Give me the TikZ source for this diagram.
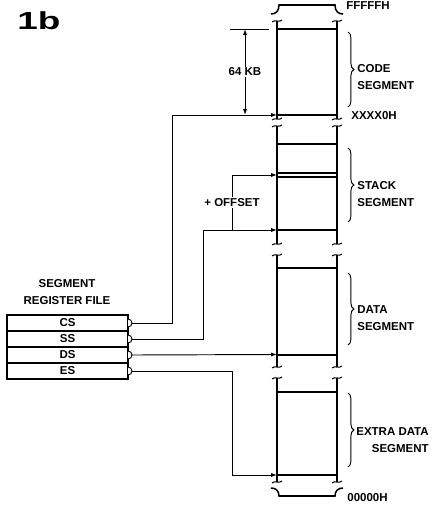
\documentclass[tikz,border=0pt]{standalone}
\usepackage{fontspec}
\setsansfont{Liberation Sans}
\usetikzlibrary{arrows.meta, positioning, calc, decorations.pathreplacing}

\begin{document}
\begin{tikzpicture}[
  x=0.03cm, y=-0.03cm,
  lbl/.style={font=\fontsize{9.8}{14}\selectfont\sffamily\bfseries, inner sep=1pt},
  regrow/.style={draw, line width=1.1pt, minimum width=3.63cm,
    minimum height=0.48cm, inner sep=0pt, outer sep=0pt, lbl},
  memline/.style={line width=1.3pt},
  brk/.style={line width=0.9pt},
  link/.style={-{Latex[length=5pt,width=3.5pt]}, line width=0.8pt},
  segbrace/.style={decorate, decoration={brace, amplitude=5pt}, line width=0.8pt},
  >={Latex[length=5pt,width=3.5pt]}
]
  \useasboundingbox (0,0) rectangle (437,507);

  % Figure tag
  \node[font=\fontsize{21}{21}\selectfont\sffamily\bfseries, inner sep=0pt]
    (tag) at (39,21) {\scalebox{1.5}[1]{1b}};

  % Memory column, in pieces with break marks
  \foreach \t/\b in {21/119, 126/244, 255/367, 378/482} {
    \draw[memline] (277,\t) -- (277,\b);
    \draw[memline] (337,\t) -- (337,\b);
    \foreach \x in {277,337} {
      \draw[brk] (\x-5,\t+1) .. controls (\x-2,\t-2) and (\x+2,\t+2) .. (\x+5,\t-1);
      \draw[brk] (\x-5,\b+1) .. controls (\x-2,\b-2) and (\x+2,\b+2) .. (\x+5,\b-1);
    }
  }

  % End caps
  \draw[memline] (271,14) .. controls (276,14) and (279,11) .. (279,5)
    -- (335,5) .. controls (335,11) and (338,14) .. (343,14);
  \draw[memline] (271,488) .. controls (276,488) and (279,491) .. (279,496)
    -- (335,496) .. controls (335,491) and (338,488) .. (343,488);

  % Segment boundaries
  \foreach \y in {29,115,144,173,177,230,268,355,392,475} {
    \draw[memline] (277,\y) -- (337,\y);
  }

  % Segment bases
  \coordinate (cbase) at (277,115);
  \coordinate (soff) at (277,175);
  \coordinate (sbase) at (277,230);
  \coordinate (dbase) at (277,354.5);
  \coordinate (ebase) at (277,475);

  % Braces and names
  \draw[segbrace] (348,32) -- (348,107);
  \draw[segbrace] (348,148) -- (348,222);
  \draw[segbrace] (348,273) -- (348,345);
  \draw[segbrace] (348,393) -- (348,467);
  \node[lbl, align=left, anchor=west] (code) at (356,77) {CODE\\SEGMENT};
  \node[lbl, align=left, anchor=west] (stack) at (356,194) {STACK\\SEGMENT};
  \node[lbl, align=left, anchor=west] (data) at (356,318) {DATA\\SEGMENT};
  \node[lbl, align=right, anchor=west] (extra) at (355,440) {EXTRA DATA\\SEGMENT};

  % Addresses
  \node[lbl, anchor=west] (top) at (345,6) {FFFFFH};
  \node[lbl, anchor=west] (mid) at (350,116) {XXXX0H};
  \node[lbl, anchor=west] (bot) at (346,498) {00000H};

  % 64 KB size
  \coordinate (ktop) at (245,29);
  \coordinate (kbot) at (245,115);
  \draw[line width=0.8pt] (230,29) -- (269,29);
  \draw[<->, line width=0.8pt] (ktop) -- node[lbl, fill=white] (size) {64 KB} (kbot);

  % Segment register file
  \node[lbl, align=center] (file) at (67,292) {SEGMENT\\REGISTER FILE};
  \node[regrow] (cs) at (67.5,323) {CS};
  \node[regrow, below=0pt of cs] (ss) {SS};
  \node[regrow, below=0pt of ss] (ds) {DS};
  \node[regrow, below=0pt of ds] (es) {ES};
  \foreach \r in {cs,ss,ds,es} {
    \draw[line width=0.8pt, fill=white] ($(\r.east)+(0,-4)$) to[out=0,in=90]
      ($(\r.east)+(4,0)$) coordinate (\r-pin) to[out=-90,in=0] ($(\r.east)+(0,4)$);
  }

  % Connections
  \coordinate (cturn) at (172,115);
  \coordinate (sturn) at (203,230);
  \coordinate (sjoin) at (232,230);
  \coordinate (eturn) at (232,475);
  \draw[link] (cs-pin) -| (cturn) -- (cbase);
  \draw[link] (ss-pin) -| (sturn) -- (sbase);
  \draw[link] (sjoin) -- node[lbl, fill=white] (offset) {+ OFFSET} (sjoin |- soff) -- (soff);
  \draw[link] (ds-pin) -- (dbase);
  \draw[link] (es-pin) -| (eturn) -- (ebase);
\end{tikzpicture}
\end{document}
